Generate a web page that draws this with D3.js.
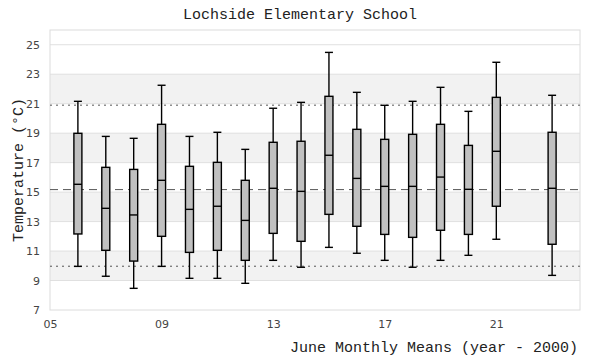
<!DOCTYPE html>
<html><head><meta charset="utf-8">
<script src="https://cdn.jsdelivr.net/npm/d3@7"></script>
<style>body{margin:0;background:#fff}svg{display:block}</style>
</head><body><svg id="c" width="600" height="360"></svg>
<script>
const years      = [6, 7, 8, 9, 10, 11, 12, 13, 14, 15, 16, 17, 18, 19, 20, 21, 23];
const whiskerLow = [9.96, 9.29, 8.47, 9.96, 9.15, 9.15, 8.81, 10.37, 9.9, 11.25, 10.85, 10.37, 9.9, 10.37, 10.71, 11.8, 9.35];
const q1         = [12.16, 11.05, 10.32, 12.0, 10.91, 11.05, 10.37, 12.2, 11.66, 13.49, 12.68, 12.13, 11.93, 12.41, 12.13, 14.04, 11.46];
const median     = [15.53, 13.9, 13.45, 15.8, 13.83, 14.04, 13.08, 15.26, 15.05, 17.5, 15.93, 15.39, 15.39, 16.02, 15.19, 17.77, 15.26];
const q3         = [18.99, 16.68, 16.54, 19.6, 16.75, 17.02, 15.8, 18.38, 18.45, 21.5, 19.26, 18.58, 18.92, 19.6, 18.17, 21.43, 19.06];
const whiskerHigh= [21.16, 18.78, 18.65, 22.25, 18.78, 19.06, 17.9, 20.69, 21.09, 24.48, 21.77, 20.89, 21.16, 22.11, 20.48, 23.81, 21.57];
const refLines   = [{v: 20.9, kind: "dot"}, {v: 15.17, kind: "dash"}, {v: 9.97, kind: "dot"}];
const yTicks     = [7, 9, 11, 13, 15, 17, 19, 21, 23, 25];
const xTicks     = [5, 9, 13, 17, 21];
const bands      = [[9, 11], [13, 15], [17, 19], [21, 23]];
const title = "Lochside Elementary School";
const xTitle = "June Monthly Means (year - 2000)";
const yTitle = "Temperature (°C)";

const L = 50, R = 580, T = 30, B = 310;
const svg = d3.select("#c");
const x = d3.scaleLinear().domain([5, 24]).range([L, R]);
const y = d3.scaleLinear().domain([7, 26]).range([B, T]);
const mono = "'Liberation Mono', 'DejaVu Sans Mono', monospace";

svg.append("g").selectAll("rect").data(bands).join("rect")
  .attr("x", L).attr("width", R - L)
  .attr("y", d => y(d[1])).attr("height", d => y(d[0]) - y(d[1]))
  .attr("fill", "#f2f2f2");
svg.append("g").selectAll("line").data(yTicks.filter(t => t > 7)).join("line")
  .attr("x1", L).attr("x2", R).attr("y1", d => y(d)).attr("y2", d => y(d))
  .attr("stroke", "#e0e0e0").attr("stroke-width", 1);
svg.append("rect").attr("x", L).attr("y", T).attr("width", R - L).attr("height", B - T)
  .attr("fill", "none").attr("stroke", "#dcdcdc").attr("stroke-width", 1);

svg.append("g").selectAll("line").data(refLines).join("line")
  .attr("x1", L).attr("x2", R).attr("y1", d => y(d.v)).attr("y2", d => y(d.v))
  .attr("stroke", "#555").attr("stroke-width", 1)
  .attr("stroke-dasharray", d => d.kind === "dot" ? "2,4" : "8,5");

const ya = svg.append("g").attr("transform", `translate(${L},0)`)
  .call(d3.axisLeft(y).tickValues(yTicks).tickSize(0).tickPadding(10).tickFormat(d3.format("d")));
const xa = svg.append("g").attr("transform", `translate(0,${B})`)
  .call(d3.axisBottom(x).tickValues(xTicks).tickSize(0).tickPadding(10).tickFormat(d3.format("02d")));
[ya, xa].forEach(a => {
  a.select(".domain").remove();
  a.selectAll("text").attr("font-family", "'DejaVu Sans', sans-serif").attr("font-size", 11).attr("fill", "#444");
});

const data = years.map((yr, i) => ({yr, lo: whiskerLow[i], q1: q1[i], med: median[i], q3: q3[i], hi: whiskerHigh[i]}));
const bw = 8, sw = 1.4;
const g = svg.append("g").selectAll("g").data(data).join("g");
g.append("line").attr("x1", d => x(d.yr)).attr("x2", d => x(d.yr))
  .attr("y1", d => y(d.hi)).attr("y2", d => y(d.lo)).attr("stroke", "#000").attr("stroke-width", sw);
g.append("line").attr("x1", d => x(d.yr) - bw / 2).attr("x2", d => x(d.yr) + bw / 2)
  .attr("y1", d => y(d.hi)).attr("y2", d => y(d.hi)).attr("stroke", "#000").attr("stroke-width", sw);
g.append("line").attr("x1", d => x(d.yr) - bw / 2).attr("x2", d => x(d.yr) + bw / 2)
  .attr("y1", d => y(d.lo)).attr("y2", d => y(d.lo)).attr("stroke", "#000").attr("stroke-width", sw);
g.append("rect").attr("x", d => x(d.yr) - bw / 2).attr("width", bw)
  .attr("y", d => y(d.q3)).attr("height", d => y(d.q1) - y(d.q3))
  .attr("fill", "#c0c0c0").attr("stroke", "#000").attr("stroke-width", sw);
g.append("line").attr("x1", d => x(d.yr) - bw / 2).attr("x2", d => x(d.yr) + bw / 2)
  .attr("y1", d => y(d.med)).attr("y2", d => y(d.med)).attr("stroke", "#000").attr("stroke-width", sw);

svg.append("text").attr("x", 300).attr("y", 19).attr("text-anchor", "middle")
  .attr("font-family", mono).attr("font-size", 15).attr("fill", "#222").text(title);
svg.append("text").attr("x", 578).attr("y", 352).attr("text-anchor", "end")
  .attr("font-family", mono).attr("font-size", 15).attr("fill", "#222").text(xTitle);
svg.append("text").attr("transform", "translate(23,170) rotate(-90)").attr("text-anchor", "middle")
  .attr("font-family", mono).attr("font-size", 15).attr("fill", "#222").text(yTitle);
</script></body></html>
